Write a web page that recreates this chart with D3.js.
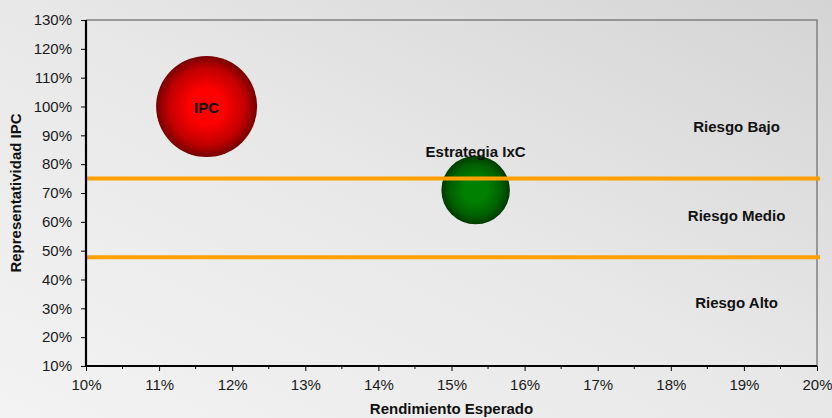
<!DOCTYPE html>
<html>
<head>
<meta charset="utf-8">
<script src="https://cdn.jsdelivr.net/npm/d3@7"></script>
<style>
  html, body { margin: 0; padding: 0; }
  body { width: 832px; height: 418px; overflow: hidden; }
  svg { display: block; font-family: "Liberation Sans", Arial, sans-serif; }
</style>
</head>
<body>
<svg id="chart" width="832" height="418"></svg>
<script>
// ---- data ----
const bubbleNames = ["IPC", "Estrategia IxC"];
const bubbleX = [0.1165, 0.1533];          // Rendimiento Esperado
const bubbleY = [1.00, 0.71];              // Representatividad IPC
const bubbleSize = [1.00, 0.46];
const riskLabels = ["Riesgo Bajo", "Riesgo Medio", "Riesgo Alto"];
const riskX = [0.189, 0.189, 0.189];
const riskY = [0.93, 0.623, 0.32];
const thresholds = [0.75, 0.477];
const xTicks = [0.10, 0.11, 0.12, 0.13, 0.14, 0.15, 0.16, 0.17, 0.18, 0.19, 0.20];
const yTicks = [0.10, 0.20, 0.30, 0.40, 0.50, 0.60, 0.70, 0.80, 0.90, 1.00, 1.10, 1.20, 1.30];

// ---- layout ----
const W = 832, H = 418;
const m = {left: 86, top: 20, right: 15, bottom: 52};
const svg = d3.select("#chart");
const defs = svg.append("defs");

const bg = defs.append("linearGradient").attr("id", "bg")
  .attr("x1", "0").attr("y1", "1").attr("x2", "1").attr("y2", "0");
bg.append("stop").attr("offset", "0").attr("stop-color", "#f3f3f3");
bg.append("stop").attr("offset", "0.5").attr("stop-color", "#e8e8e8");
bg.append("stop").attr("offset", "1").attr("stop-color", "#d4d4d4");
svg.append("rect").attr("width", W).attr("height", H).attr("fill", "url(#bg)");

function radial(id, inner, mid, outer) {
  const g = defs.append("radialGradient").attr("id", id)
    .attr("cx", "0.5").attr("cy", "0.5").attr("r", "0.5");
  g.append("stop").attr("offset", "0").attr("stop-color", inner);
  g.append("stop").attr("offset", "0.35").attr("stop-color", inner);
  g.append("stop").attr("offset", "0.75").attr("stop-color", mid);
  g.append("stop").attr("offset", "1").attr("stop-color", outer);
}
radial("gRed", "#ff0000", "#c40000", "#760000");
radial("gGreen", "#008000", "#006000", "#003a00");
const fills = ["url(#gRed)", "url(#gGreen)"];

const x = d3.scaleLinear().domain([0.10, 0.20]).range([m.left, W - m.right]);
const y = d3.scaleLinear().domain([0.10, 1.30]).range([H - m.bottom, m.top]);
const r = d3.scaleSqrt().domain([0, 1]).range([0, 50.5]);
const pct = d3.format(".0%");

// frame (top & right)
svg.append("path")
  .attr("d", `M${x(0.10)},${y(1.30)}H${x(0.20)}V${y(0.10)}`)
  .attr("fill", "none").attr("stroke", "#808080").attr("stroke-width", 1.5);

// bubbles
const bubbles = bubbleNames.map((n, i) => ({name: n, x: bubbleX[i], y: bubbleY[i], s: bubbleSize[i], fill: fills[i]}));
svg.append("g").selectAll("circle").data(bubbles).join("circle")
  .attr("cx", d => x(d.x)).attr("cy", d => y(d.y)).attr("r", d => r(d.s))
  .attr("fill", d => d.fill);

// threshold lines
svg.append("g").selectAll("line").data(thresholds).join("line")
  .attr("x1", x(0.10)).attr("x2", x(0.20) + 3)
  .attr("y1", d => y(d)).attr("y2", d => y(d))
  .attr("stroke", "#ffa000").attr("stroke-width", 4);

// bubble labels
svg.append("text").attr("x", x(bubbles[0].x)).attr("y", y(bubbles[0].y) + 6)
  .attr("text-anchor", "middle").attr("font-weight", "bold").attr("font-size", 15)
  .attr("fill", "#111").text(bubbles[0].name);
svg.append("text").attr("x", x(bubbles[1].x)).attr("y", y(bubbles[1].y) - r(bubbles[1].s) + 1)
  .attr("text-anchor", "middle").attr("font-weight", "bold").attr("font-size", 15)
  .attr("fill", "#111").text(bubbles[1].name);

// risk labels
svg.append("g").selectAll("text").data(riskLabels).join("text")
  .attr("x", (d, i) => x(riskX[i])).attr("y", (d, i) => y(riskY[i]) + 5.5)
  .attr("text-anchor", "middle").attr("font-weight", "bold").attr("font-size", 15)
  .attr("fill", "#111").text(d => d);

// axes
const xAxis = svg.append("g").attr("transform", `translate(0,${y(0.10)})`)
  .call(d3.axisBottom(x).tickValues(xTicks).tickFormat(pct).tickSize(5).tickPadding(8));
const minor = d3.range(0, xTicks.length - 1).map(i => (xTicks[i] + xTicks[i + 1]) / 2);
xAxis.selectAll(".minor").data(minor).join("line").attr("class", "minor")
  .attr("x1", d => x(d)).attr("x2", d => x(d)).attr("y1", 0).attr("y2", 3)
  .attr("stroke", "#000").attr("stroke-width", 1);
const yAxis = svg.append("g").attr("transform", `translate(${x(0.10)},0)`)
  .call(d3.axisLeft(y).tickValues(yTicks).tickFormat(pct).tickSize(5).tickPadding(9));

[xAxis, yAxis].forEach(a => {
  a.select(".domain").attr("stroke", "#000").attr("stroke-width", 2.2);
  a.selectAll(".tick line").attr("stroke", "#000").attr("stroke-width", 1);
  a.selectAll(".tick text").attr("font-size", 15).attr("fill", "#1a1a1a")
    .attr("font-family", "'Liberation Sans', Arial, sans-serif");
});
xAxis.select(".domain").attr("d", `M${x(0.10)},0H${x(0.20)}`);
yAxis.select(".domain").attr("d", `M0,${y(1.30)}V${y(0.10)}`);

// axis titles
svg.append("text").attr("x", (x(0.10) + x(0.20)) / 2).attr("y", 414)
  .attr("text-anchor", "middle").attr("font-weight", "bold").attr("font-size", 15)
  .attr("fill", "#111").text("Rendimiento Esperado");
svg.append("text")
  .attr("transform", `translate(21,${(y(0.10) + y(1.30)) / 2}) rotate(-90)`)
  .attr("text-anchor", "middle").attr("font-weight", "bold").attr("font-size", 15)
  .attr("fill", "#111").text("Representatividad IPC");
</script>
</body>
</html>
